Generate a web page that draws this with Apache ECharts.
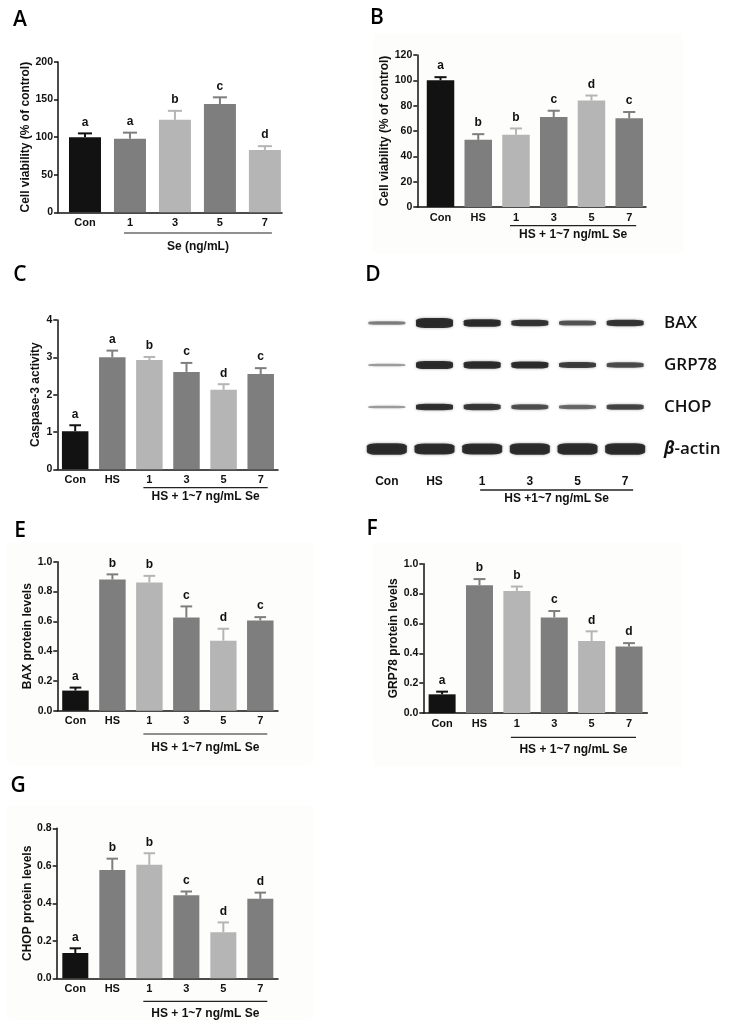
<!DOCTYPE html>
<html><head><meta charset="utf-8">
<script src="https://cdn.jsdelivr.net/npm/echarts@6/dist/echarts.min.js"></script>
<style>html,body{margin:0;padding:0;background:#fff}#c{width:733px;height:1025px}</style>
</head><body><div id="c"></div>
<script>
// ---------------- data ----------------
const catsSe = ['Con', '1', '3', '5', '7'];
const catsHS = ['Con', 'HS', '1', '3', '5', '7'];

const viabilitySe = [100, 98, 123, 144, 83];
const viabilitySeErr = [5, 8, 12, 9, 5];
const viabilitySeLetters = ['a', 'a', 'b', 'c', 'd'];
const ticksViabilitySe = [0, 50, 100, 150, 200];

const viabilityHS = [100, 53, 57, 71, 84, 70];
const viabilityHSErr = [2.5, 4.5, 5, 5, 4, 5];
const viabilityHSLetters = ['a', 'b', 'b', 'c', 'd', 'c'];
const ticksViabilityHS = [0, 20, 40, 60, 80, 100, 120];

const caspase3 = [1.02, 3.0, 2.93, 2.61, 2.13, 2.55];
const caspase3Err = [0.16, 0.18, 0.08, 0.24, 0.15, 0.16];
const caspase3Letters = ['a', 'a', 'b', 'c', 'd', 'c'];
const ticksCaspase = [0, 1, 2, 3, 4];

const baxLevels = [0.135, 0.88, 0.86, 0.625, 0.47, 0.605];
const baxErr = [0.02, 0.035, 0.045, 0.075, 0.08, 0.023];
const baxLetters = ['a', 'b', 'b', 'c', 'd', 'c'];
const ticksBax = [0, 0.2, 0.4, 0.6, 0.8, 1.0];

const grp78Levels = [0.125, 0.855, 0.817, 0.64, 0.482, 0.445];
const grp78Err = [0.018, 0.042, 0.03, 0.043, 0.065, 0.023];
const grp78Letters = ['a', 'b', 'b', 'c', 'd', 'd'];
const ticksGrp78 = [0, 0.2, 0.4, 0.6, 0.8, 1.0];

const chopLevels = [0.135, 0.578, 0.605, 0.443, 0.245, 0.424];
const chopErr = [0.025, 0.06, 0.062, 0.02, 0.053, 0.033];
const chopLetters = ['a', 'b', 'b', 'c', 'd', 'd'];
const ticksChop = [0, 0.2, 0.4, 0.6, 0.8];

// western blot relative band intensities (lanes: Con, HS, 1, 3, 5, 7)
const blotProteins = ['BAX', 'GRP78', 'CHOP', 'β-actin'];
const blotBAX = [0.2, 0.85, 0.6, 0.5, 0.36, 0.5];
const blotGRP78 = [0.1, 0.65, 0.6, 0.55, 0.45, 0.4];
const blotCHOP = [0.1, 0.52, 0.48, 0.38, 0.28, 0.42];
const blotActin = [1, 0.95, 0.95, 1, 1, 1];

// ---------------- styles ----------------
const FONT = '"Liberation Sans", Arial, sans-serif';
const LABEL_FONT = '"Open Sans", sans-serif';
const INK = '#111';
function colorFor(i) { return i === 0 ? '#121212' : (i % 2 === 1 ? '#7e7e7e' : '#b5b5b5'); }

const panels = [
  { cats: catsSe, vals: viabilitySe, errs: viabilitySeErr, letters: viabilitySeLetters, ticks: ticksViabilitySe, dec: 0,
    name: 'Cell viability (% of control)', nameGap: 24, grid: { left: 58, top: 62, width: 224, height: 150.3 },
    xMin: -0.6, xMax: 4.38, barWidth: 32, group: 'Se (ng/mL)', gFrom: 1, gTo: 4, lineOff: 20.7, textOff: 34.7 },
  { cats: catsHS, vals: viabilityHS, errs: viabilityHSErr, letters: viabilityHSLetters, ticks: ticksViabilityHS, dec: 0,
    name: 'Cell viability (% of control)', nameGap: 23, grid: { left: 417.3, top: 55, width: 228.7, height: 152 },
    xMin: -0.615, xMax: 5.445, barWidth: 27.5, group: 'HS + 1~7 ng/mL Se', gFrom: 2, gTo: 5, lineOff: 18.7, textOff: 28 },
  { cats: catsHS, vals: caspase3, errs: caspase3Err, letters: caspase3Letters, ticks: ticksCaspase, dec: 0,
    name: 'Caspase-3 activity', nameGap: 16, grid: { left: 57.3, top: 320, width: 220.7, height: 149.3 },
    xMin: -0.482, xMax: 5.466, barWidth: 26.5, group: 'HS + 1~7 ng/mL Se', gFrom: 2, gTo: 5, lineOff: 18.4, textOff: 27.4 },
  { cats: catsHS, vals: baxLevels, errs: baxErr, letters: baxLetters, ticks: ticksBax, dec: 1,
    name: 'BAX protein levels', nameGap: 22, grid: { left: 57.3, top: 561.7, width: 220.7, height: 149 },
    xMin: -0.491, xMax: 5.479, barWidth: 26.5, group: 'HS + 1~7 ng/mL Se', gFrom: 2, gTo: 5, lineOff: 23.3, textOff: 37 },
  { cats: catsHS, vals: grp78Levels, errs: grp78Err, letters: grp78Letters, ticks: ticksGrp78, dec: 1,
    name: 'GRP78 protein levels', nameGap: 24, grid: { left: 423.3, top: 563.7, width: 224, height: 149.3 },
    xMin: -0.503, xMax: 5.489, barWidth: 27, group: 'HS + 1~7 ng/mL Se', gFrom: 2, gTo: 5, lineOff: 24.3, textOff: 36.3 },
  { cats: catsHS, vals: chopLevels, errs: chopErr, letters: chopLetters, ticks: ticksChop, dec: 1,
    name: 'CHOP protein levels', nameGap: 21, grid: { left: 56.7, top: 828.3, width: 221.3, height: 150 },
    xMin: -0.503, xMax: 5.478, barWidth: 26, group: 'HS + 1~7 ng/mL Se', gFrom: 2, gTo: 5, lineOff: 23, textOff: 35 }
];

const grids = [], xAxes = [], yAxes = [], series = [];

function groupLabelSeries(k, text, from, to, lineOff, textOff) {
  return {
    type: 'custom', xAxisIndex: k, yAxisIndex: k, silent: true, z: 4,
    data: [[from, 0, to]],
    renderItem: function (params, api) {
      const cs = params.coordSys;
      const bottom = cs.y + cs.height;
      const x1 = api.coord([api.value(0), 0])[0] - 6;
      const x2 = api.coord([api.value(2), 0])[0] + 7;
      return { type: 'group', children: [
        { type: 'line', shape: { x1: x1, y1: bottom + lineOff, x2: x2, y2: bottom + lineOff },
          style: { stroke: '#222', lineWidth: 1.2 } },
        { type: 'text', x: (x1 + x2) / 2, y: bottom + textOff,
          style: { text: text, textAlign: 'center', textVerticalAlign: 'middle',
            font: 'bold 12px ' + FONT, fill: INK } }
      ] };
    }
  };
}

panels.forEach(function (p, k) {
  grids.push(Object.assign({ containLabel: false }, p.grid));
  const cats = p.cats;
  xAxes.push({
    gridIndex: k, type: 'value', min: p.xMin, max: p.xMax,
    splitLine: { show: false }, axisTick: { show: false },
    axisLine: { show: true, onZero: false, lineStyle: { color: INK, width: 1.5 } },
    axisLabel: { customValues: cats.map(function (c, i) { return i; }),
      formatter: function (v) { return cats[Math.round(v)]; },
      fontFamily: FONT, fontWeight: 'bold', fontSize: 11, color: INK, margin: 5 }
  });
  const dec = p.dec;
  yAxes.push({
    gridIndex: k, type: 'value', min: p.ticks[0], max: p.ticks[p.ticks.length - 1],
    interval: p.ticks[1] - p.ticks[0],
    splitLine: { show: false },
    axisLine: { show: true, onZero: false, lineStyle: { color: INK, width: 1.5 } },
    axisTick: { show: true, length: 4, lineStyle: { color: INK, width: 1.5 } },
    axisLabel: { formatter: function (v) { return v.toFixed(dec); },
      fontFamily: FONT, fontWeight: 'bold', fontSize: 10.5, color: INK, margin: 5 },
    name: p.name, nameLocation: 'middle', nameGap: p.nameGap,
    nameTextStyle: { fontFamily: FONT, fontWeight: 'bold', fontSize: 12, color: INK }
  });
  series.push({
    type: 'bar', xAxisIndex: k, yAxisIndex: k, barWidth: p.barWidth, silent: true, z: 2,
    data: p.vals.map(function (v, i) { return { value: [i, v], itemStyle: { color: colorFor(i) } }; })
  });
  const letters = p.letters;
  const capHalf = p.barWidth * 0.22;
  series.push({
    type: 'custom', xAxisIndex: k, yAxisIndex: k, silent: true, z: 3,
    data: p.vals.map(function (v, i) { return [i, v, p.errs[i]]; }),
    renderItem: function (params, api) {
      const i = api.value(0), v = api.value(1), e = api.value(2);
      const a = api.coord([i, v]);
      const b = api.coord([i, v + e]);
      const col = colorFor(i);
      return { type: 'group', children: [
        { type: 'line', shape: { x1: a[0], y1: a[1], x2: b[0], y2: b[1] }, style: { stroke: col, lineWidth: 2 } },
        { type: 'line', shape: { x1: b[0] - capHalf, y1: b[1], x2: b[0] + capHalf, y2: b[1] }, style: { stroke: col, lineWidth: 2 } },
        { type: 'text', x: b[0], y: b[1] - 5,
          style: { text: letters[i], textAlign: 'center', textVerticalAlign: 'bottom',
            font: 'bold 12px ' + FONT, fill: INK } }
      ] };
    }
  });
  series.push(groupLabelSeries(k, p.group, p.gFrom, p.gTo, p.lineOff, p.textOff));
});

// ---------------- western blot (panel D) ----------------
const kb = panels.length;
grids.push({ left: 363, top: 302, width: 286, height: 168 });
xAxes.push({
  gridIndex: kb, type: 'category', data: catsHS,
  axisLine: { show: false }, axisTick: { show: false }, splitLine: { show: false },
  axisLabel: { fontFamily: FONT, fontWeight: 'bold', fontSize: 12, color: INK, margin: 6 }
});
yAxes.push({
  gridIndex: kb, type: 'category', data: blotProteins, inverse: true, position: 'right',
  axisLine: { show: false }, axisTick: { show: false }, splitLine: { show: false },
  axisLabel: {
    margin: 15, color: INK, fontFamily: LABEL_FONT, fontSize: 17, fontWeight: 600,
    formatter: function (v) { return v === 'β-actin' ? '{g|β}{n|-actin}' : v; },
    rich: {
      g: { fontFamily: LABEL_FONT, fontSize: 17, fontStyle: 'italic', fontWeight: 'bold', color: INK },
      n: { fontFamily: LABEL_FONT, fontSize: 17, fontWeight: 600, color: INK }
    }
  }
});
const blotRows = [blotBAX, blotGRP78, blotCHOP, blotActin];
const bandData = [];
blotRows.forEach(function (row, r) {
  row.forEach(function (I, l) { bandData.push([l, r, I]); });
});
series.push({
  type: 'scatter', xAxisIndex: kb, yAxisIndex: kb, silent: true, z: 2,
  symbol: 'roundRect',
  symbolSize: function (val) { return [val[1] === 3 ? 40 : 37, 1.5 + 10 * val[2]]; },
  data: bandData,
  itemStyle: {
    color: function (p) {
      const a = Math.min(1, 0.3 + p.value[2] * 1.3);
      return 'rgba(10,10,10,' + a.toFixed(2) + ')';
    },
    shadowBlur: 3, shadowColor: 'rgba(0,0,0,0.45)'
  }
});
series.push({
  type: 'custom', xAxisIndex: kb, yAxisIndex: kb, silent: true, z: 4,
  data: [[2, 0, 5]],
  renderItem: function (params, api) {
    const cs = params.coordSys;
    const bottom = cs.y + cs.height;
    const x1 = api.coord([api.value(0), 0])[0] - 2;
    const x2 = api.coord([api.value(2), 0])[0] + 8;
    return { type: 'group', children: [
      { type: 'line', shape: { x1: x1, y1: bottom + 20, x2: x2, y2: bottom + 20 }, style: { stroke: '#222', lineWidth: 1.3 } },
      { type: 'text', x: (x1 + x2) / 2, y: bottom + 29,
        style: { text: 'HS +1~7 ng/mL Se', textAlign: 'center', textVerticalAlign: 'middle',
          font: 'bold 12px ' + FONT, fill: INK } }
    ] };
  }
});

// ---------------- decorations ----------------
const panelLetters = [['A', 20, 20], ['B', 377, 18], ['C', 20, 275], ['D', 373, 275],
                      ['E', 20, 531], ['F', 372, 529], ['G', 18, 786]];
const bgRects = [[373, 33, 310, 220], [7, 542, 306, 223], [373, 542, 309, 225], [7, 805, 306, 215]];
const graphics = [];
bgRects.forEach(function (r) {
  graphics.push({ type: 'rect', z: -100, silent: true, shape: { x: r[0], y: r[1], width: r[2], height: r[3], r: 4 },
    style: { fill: '#fdfdfb' } });
});
panelLetters.forEach(function (t) {
  graphics.push({ type: 'text', z: 100, x: t[1], y: t[2], silent: true,
    style: { text: t[0], textAlign: 'center', textVerticalAlign: 'middle',
      font: '600 21px ' + LABEL_FONT, fill: '#000' } });
});

const chart = echarts.init(document.getElementById('c'), null, { renderer: 'canvas' });
chart.setOption({
  backgroundColor: '#ffffff',
  animation: false,
  grid: grids, xAxis: xAxes, yAxis: yAxes, series: series,
  graphic: { elements: graphics }
});
</script></body></html>
